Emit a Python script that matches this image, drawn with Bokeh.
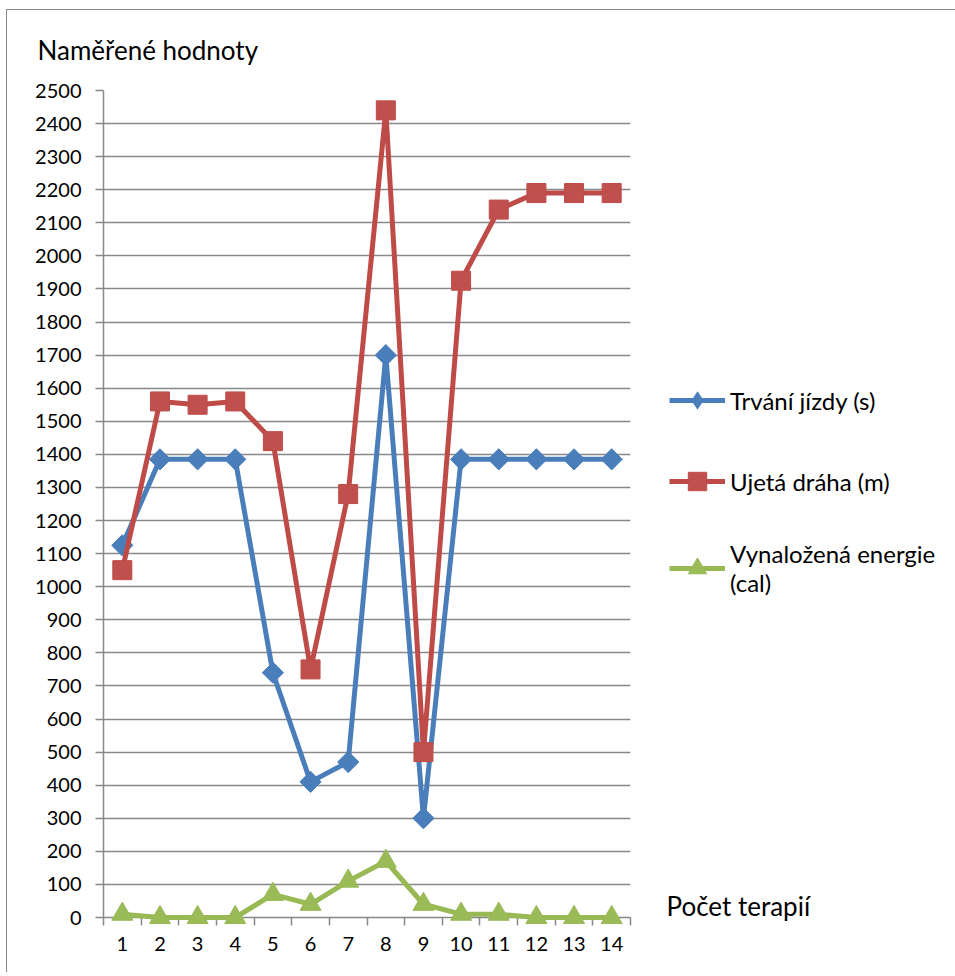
import numpy as np
from bokeh.plotting import figure
from bokeh.models import (Range1d, FixedTicker, Legend, LegendItem, Label,
                          ColumnDataSource)
from bokeh.embed import file_html
from bokeh.resources import INLINE

# ---- data ----
sessions = [1, 2, 3, 4, 5, 6, 7, 8, 9, 10, 11, 12, 13, 14]
session_labels = ["1", "2", "3", "4", "5", "6", "7", "8", "9", "10", "11", "12", "13", "14"]
trvani = [1125, 1385, 1385, 1385, 740, 410, 470, 1700, 300, 1385, 1385, 1385, 1385, 1385]
draha = [1050, 1560, 1550, 1560, 1440, 750, 1280, 2440, 500, 1925, 2140, 2190, 2190, 2190]
energie = [10, 0, 0, 0, 70, 40, 110, 170, 40, 10, 10, 0, 0, 0]
y_ticks = list(range(0, 2600, 100))
series_names = ["Trvání jízdy (s)", "Ujetá dráha (m)", "Vynaložená energie\n(cal)"]
axis_titles = ["Naměřené hodnoty", "Počet terapií"]

FONT = "Lato"
GRID = "#898989"

p = figure(width=943, height=962, output_backend="svg", toolbar_location=None,
           x_range=Range1d(0.5, 14.5), y_range=Range1d(0, 2500),
           frame_width=527, frame_height=827,
           min_border_left=96, min_border_top=80, min_border_right=320, min_border_bottom=55)
p.styles = {"margin-left": "6px", "margin-top": "9px",
            "border-left": "1px solid #8a8a8a", "border-top": "1px solid #8a8a8a"}
p.outline_line_color = None
p.background_fill_color = "white"
p.border_fill_color = "white"

# axes
p.xaxis.ticker = FixedTicker(ticks=sessions, minor_ticks=[s - 0.5 for s in sessions] + [14.5])
p.xaxis.major_label_overrides = {s: l for s, l in zip(sessions, session_labels)}
p.xaxis.major_tick_line_color = None
p.xaxis.major_tick_out = 8
p.xaxis.major_tick_in = 0
p.xaxis.minor_tick_out = 8
p.xaxis.minor_tick_in = 0
p.xaxis.minor_tick_line_color = GRID
p.xaxis.minor_tick_line_width = 1.5
p.xaxis.major_label_standoff = 11

p.yaxis.ticker = FixedTicker(ticks=y_ticks)
p.yaxis.major_tick_out = 8
p.yaxis.major_tick_in = 0
p.yaxis.minor_tick_line_color = None
p.yaxis.major_tick_line_color = GRID
p.yaxis.major_tick_line_width = 1.5
p.yaxis.major_label_standoff = 14

for ax in (p.xaxis, p.yaxis):
    ax.axis_line_color = GRID
    ax.axis_line_width = 1.5
    ax.major_label_text_font = FONT
    ax.major_label_text_font_size = "20px"
    ax.major_label_text_color = "black"

p.xgrid.grid_line_color = None
p.ygrid.grid_line_color = GRID
p.ygrid.grid_line_width = 1.5

src = ColumnDataSource(dict(x=sessions, t=trvani, d=draha, e=energie))

l1 = p.line("x", "t", source=src, line_color="#4A7EBB", line_width=5, level="overlay")
m1 = p.scatter("x", "t", source=src, marker="square", angle=np.pi / 4, size=15,
               fill_color="#4A7EBB", line_color="#4A7EBB", level="overlay")
l2 = p.line("x", "d", source=src, line_color="#BE4B48", line_width=5, level="overlay")
m2 = p.scatter("x", "d", source=src, marker="square", size=19,
               fill_color="#C0504D", line_color="#BE4B48", level="overlay")
l3 = p.line("x", "e", source=src, line_color="#98B954", line_width=5, level="overlay")
m3 = p.scatter("x", "e", source=src, marker="triangle", size=21,
               fill_color="#9BBB59", line_color="#98B954", level="overlay")
# legend swatch for the diamond series: zero-size in the plot, sized by the legend box
m1_key = p.scatter("x", "t", source=src, marker="diamond", size=0,
                   fill_color="#4A7EBB", line_color=None)

legend = Legend(items=[LegendItem(label=series_names[0], renderers=[l1, m1_key]),
                       LegendItem(label=series_names[1], renderers=[l2, m2]),
                       LegendItem(label=series_names[2], renderers=[l3, m3])],
                location=(39, 320), orientation="vertical",
                label_text_font=FONT, label_text_font_size="24px",
                label_text_color="black", glyph_width=56, glyph_height=46,
                label_height=46, spacing=35, padding=0, margin=0,
                label_standoff=5, border_line_color=None,
                background_fill_alpha=0)
p.add_layout(legend, "right")

# captions: both in the top side panel
p.add_layout(Label(x=563, y=-815, x_units="screen", y_units="screen",
                   text=axis_titles[1], text_font=FONT, text_font_size="26px",
                   text_baseline="middle", text_color="black"), "above")
p.add_layout(Label(x=-66, y=9, x_units="screen", y_units="screen",
                   text=axis_titles[0], text_font=FONT, text_font_size="26px",
                   text_baseline="middle", text_color="black"), "above")

open("out.html", "w").write(file_html(p, INLINE))
